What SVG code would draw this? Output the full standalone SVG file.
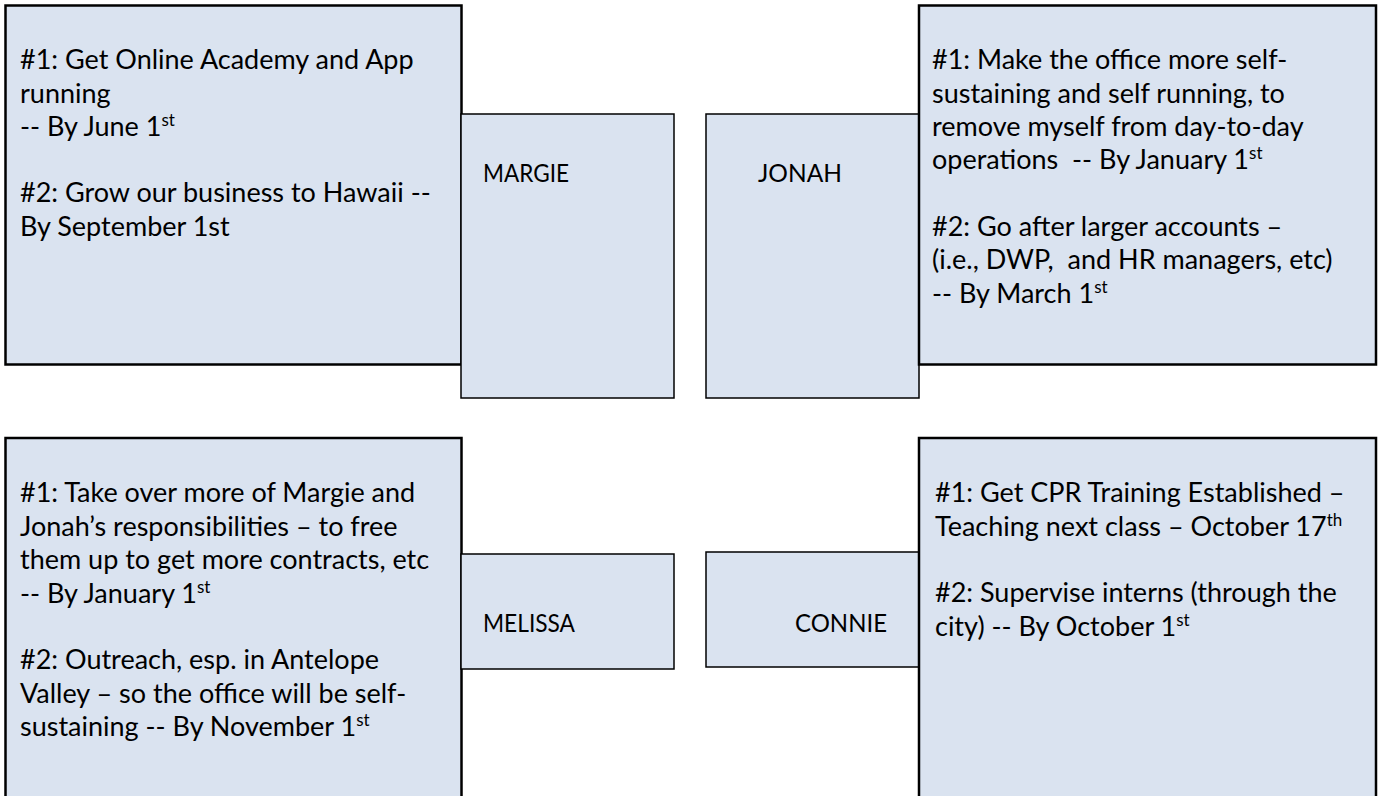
<svg xmlns="http://www.w3.org/2000/svg" width="1380" height="796" viewBox="0 0 1380 796">
<style>
.big{fill:#DAE3F0;stroke:#000;stroke-width:2.5}
.small{fill:#DAE3F0;stroke:#000;stroke-width:1.5}
text{font-family:Lato,"Liberation Sans",sans-serif;font-size:27px;fill:#000;white-space:pre}
.sup{font-size:17px}
.name{font-size:25px}
</style>
<rect width="1380" height="796" fill="#fff"/>
<g id="connectors"/>
<g id="margie-goals">
<rect class="big" x="5.5" y="5.5" width="456" height="359"/>
<text x="20" y="69">#1: Get Online Academy and App</text>
<text x="20" y="103">running</text>
<text x="20" y="136">-- By June 1<tspan class="sup" dy="-10">st</tspan></text>
<text x="20" y="202">#2: Grow our business to Hawaii --</text>
<text x="20" y="236">By September 1st</text>
</g>
<g id="margie">
<rect class="small" x="461" y="114" width="213" height="284"/>
<text class="name" x="483" y="182" textLength="86" lengthAdjust="spacingAndGlyphs">MARGIE</text>
</g>
<g id="jonah">
<rect class="small" x="706" y="114" width="213" height="284"/>
<text class="name" x="758" y="182" textLength="84" lengthAdjust="spacingAndGlyphs">JONAH</text>
</g>
<g id="jonah-goals">
<rect class="big" x="919" y="5.5" width="457" height="359"/>
<text x="932" y="69">#1: Make the office more self-</text>
<text x="932" y="103">sustaining and self running, to</text>
<text x="932" y="136">remove myself from day-to-day</text>
<text x="932" y="169">operations  -- By January 1<tspan class="sup" dy="-10">st</tspan></text>
<text x="932" y="236">#2: Go after larger accounts –</text>
<text x="932" y="269">(i.e., DWP,  and HR managers, etc)</text>
<text x="932" y="303">-- By March 1<tspan class="sup" dy="-10">st</tspan></text>
</g>
<g id="melissa-goals">
<rect class="big" x="5.5" y="438" width="456" height="370"/>
<text x="20" y="502">#1: Take over more of Margie and</text>
<text x="20" y="536">Jonah’s responsibilities – to free</text>
<text x="20" y="569">them up to get more contracts, etc</text>
<text x="20" y="603">-- By January 1<tspan class="sup" dy="-10">st</tspan></text>
<text x="20" y="669">#2: Outreach, esp. in Antelope</text>
<text x="20" y="703">Valley – so the office will be self-</text>
<text x="20" y="736">sustaining -- By November 1<tspan class="sup" dy="-10">st</tspan></text>
</g>
<g id="melissa">
<rect class="small" x="461" y="554" width="213" height="115"/>
<text class="name" x="483" y="632" textLength="92" lengthAdjust="spacingAndGlyphs">MELISSA</text>
</g>
<g id="connie">
<rect class="small" x="706" y="552" width="213" height="115"/>
<text class="name" x="795" y="632" textLength="92" lengthAdjust="spacingAndGlyphs">CONNIE</text>
</g>
<g id="connie-goals">
<rect class="big" x="919" y="438" width="457" height="370"/>
<text x="935" y="502">#1: Get CPR Training Established –</text>
<text x="935" y="536">Teaching next class – October 17<tspan class="sup" dy="-10">th</tspan></text>
<text x="935" y="602">#2: Supervise interns (through the</text>
<text x="935" y="636">city) -- By October 1<tspan class="sup" dy="-10">st</tspan></text>
</g>
</svg>
